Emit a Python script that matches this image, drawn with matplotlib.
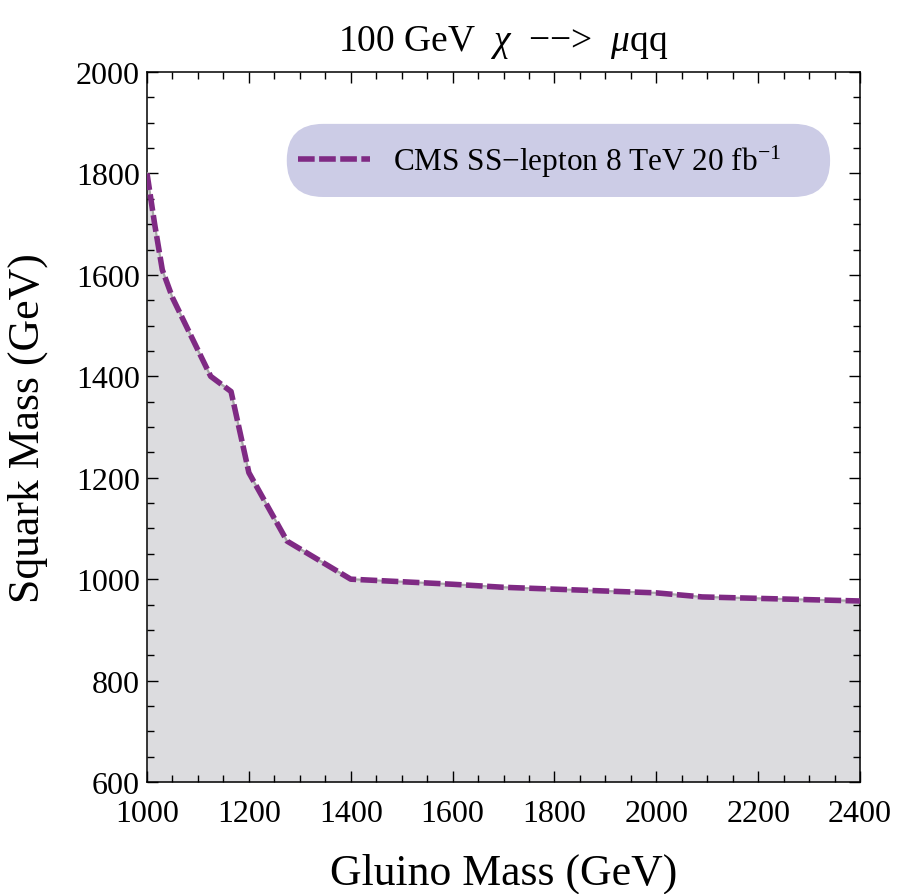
import matplotlib
matplotlib.use("Agg")
import matplotlib.pyplot as plt
from matplotlib.patches import FancyBboxPatch
from matplotlib.ticker import MultipleLocator

# Exclusion boundary
gluino = [1000, 1015, 1030, 1050, 1125, 1165, 1200, 1275, 1400, 1600, 1700, 2000, 2090, 2400]
squark = [1800, 1700, 1610, 1555, 1400, 1370, 1210, 1075, 1000, 990, 984, 973, 965, 957]

plt.rcParams["font.family"] = ["Liberation Serif", "DejaVu Serif"]
plt.rcParams["mathtext.fontset"] = "custom"
plt.rcParams["mathtext.rm"] = "Liberation Serif"
plt.rcParams["mathtext.it"] = "Liberation Serif:italic"

fig = plt.figure(figsize=(8.97, 8.95), dpi=100)
ax = fig.add_axes([0.1639, 0.1251, 0.7949, 0.7933])

# shaded excluded region with grey edge, purple dashes on top
ax.fill_between(gluino, 600, squark, color="#dcdcdf", lw=0)
ax.plot(gluino, squark, color="#a8a8a8", lw=1.6, zorder=3)
ax.plot(gluino, squark, color="#7f2a84", lw=4, dashes=(3.0, 0.8),
        label=r"CMS SS$-$lepton 8 TeV 20 fb$^{-1}$", zorder=4)

ax.set_xlim(1000, 2400)
ax.set_ylim(600, 2000)
ax.xaxis.set_major_locator(MultipleLocator(200))
ax.xaxis.set_minor_locator(MultipleLocator(50))
ax.yaxis.set_major_locator(MultipleLocator(200))
ax.yaxis.set_minor_locator(MultipleLocator(50))
ax.tick_params(which="both", direction="in", top=True, right=True, labelsize=23)
ax.tick_params(axis="x", pad=12)
ax.tick_params(axis="y", pad=5)
ax.tick_params(which="major", length=8, width=1)
ax.tick_params(which="minor", length=5, width=1)
for s in ax.spines.values():
    s.set_linewidth(1.1)

ax.set_xlabel("Gluino Mass (GeV)", fontsize=31.5, labelpad=18)
ax.set_ylabel("Squark Mass (GeV)", fontsize=31.5, labelpad=20)
ax.set_title(r"100 GeV  $\mathit{\chi}$  $-$$-$>  $\mathit{\mu}$qq", fontsize=27, pad=16)

# rounded lavender legend box
box = FancyBboxPatch((0.196, 0.824), 0.762, 0.103, transform=ax.transAxes,
                     boxstyle="round,pad=0,rounding_size=0.051",
                     facecolor="#cccce6", edgecolor="none", zorder=5)
ax.add_patch(box)
leg = ax.legend(loc="center left", bbox_to_anchor=(0.212, 0.875), fontsize=22.5,
                handlelength=2.3, handletextpad=0.74, borderpad=0,
                frameon=False, borderaxespad=0)
leg.set_zorder(6)

fig.savefig("out.png", dpi=100)
